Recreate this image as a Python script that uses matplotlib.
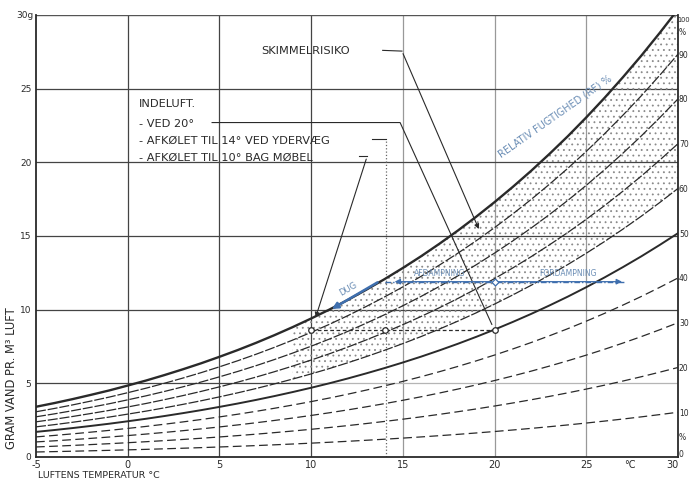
import matplotlib
matplotlib.use('Agg')
import matplotlib.pyplot as plt
import numpy as np

# saturated water content of air (g/m3)
temps = [-5, -4, -3, -2, -1, 0, 1, 2, 3, 4, 5, 6, 7, 8, 9, 10, 11, 12, 13, 14, 15,
         16, 17, 18, 19, 20, 21, 22, 23, 24, 25, 26, 27, 28, 29, 30]
sat_g = [3.41, 3.66, 3.93, 4.22, 4.52, 4.85, 5.19, 5.56, 5.95, 6.36, 6.80, 7.26,
         7.75, 8.27, 8.82, 9.40, 10.01, 10.66, 11.35, 12.07, 12.83, 13.63, 14.48,
         15.37, 16.31, 17.30, 18.34, 19.43, 20.58, 21.78, 23.05, 24.38, 25.78,
         27.24, 28.78, 30.38]
rh_levels = [10, 20, 30, 40, 50, 60, 70, 80, 90, 100]
rh_labels = ['10', '20', '30', '40', '50', '60', '70', '80', '90', '100']

# indoor air states (temperature, g/m3)
state_temps = [10, 14, 20]
state_g = 8.6
# blue process arrows
dug_from, dug_to = (13.75, 11.95), (11.0, 9.95)
evap_g = 11.9
evap_left = (20, 14.0)
evap_right = (20, 27.1)

x_ticks = [-5, 0, 5, 10, 15, 20, 25, 30]
y_ticks = [0, 5, 10, 15, 20, 25]

ink = '#2a2a2a'
blue = '#3f6fae'
blue_txt = '#6a8db5'
plt.rcParams['hatch.linewidth'] = 0.6
plt.rcParams['hatch.color'] = '#8a8a8a'

fig = plt.figure(figsize=(6.9, 4.81), dpi=100)
ax = fig.add_axes([36 / 690, 23 / 481, 642 / 690, 442 / 481])
ax.set_xlim(-5, 30)
ax.set_ylim(0, 30)

t = np.array(temps, dtype=float)
s = np.array(sat_g)
curves = {rh: s * rh / 100.0 for rh in rh_levels}

# grid
for xv in x_ticks[1:-1]:
    ax.axvline(xv, color='#444' if xv <= 10 else '#999', lw=0.9, zorder=1)
for yv in y_ticks[1:]:
    if yv == 5:
        ax.plot([-5, 10], [5, 5], color='#444', lw=0.9, zorder=1)
        ax.plot([10, 30], [5, 5], color='#b5b5b5', lw=0.9, zorder=1)
    else:
        ax.axhline(yv, color='#444', lw=0.9, zorder=1)
ax.axhline(30, color='#555', lw=1.0, zorder=1)

# mould-risk stipple
m = t >= 9
ax.fill_between(t[m], curves[60][m], curves[100][m], facecolor='none',
                edgecolor='#8a8a8a', hatch='...', lw=0, zorder=2)

# relative humidity curves
for rh in rh_levels:
    if rh in (50, 100):
        ax.plot(t, curves[rh], color=ink, lw=1.7 if rh == 100 else 1.4, zorder=3)
    elif rh < 50:
        ax.plot(t, curves[rh], color=ink, lw=0.9, dashes=(7, 3.5), zorder=3)
    else:
        ax.plot(t, curves[rh], color=ink, lw=0.9, dashes=(8, 1.5), zorder=3)

# right-hand % labels
rk = dict(fontsize=5.5, va='center', ha='left', color=ink)
for rh, lab in zip(rh_levels, rh_labels):
    if rh == 100:
        ax.text(29.98, 29.7, lab, fontsize=4.8, va='center', ha='left', color=ink)
    else:
        ax.text(30.05, curves[rh][-1], lab, **rk)
ax.text(30.05, 28.9, '%', **rk)
ax.text(30.05, 1.4, '%', **rk)
ax.text(30.05, 0.25, '0', **rk)

# indoor states
ax.plot([state_temps[0], state_temps[-1]], [state_g, state_g], color=ink,
        lw=0.9, dashes=(3, 2), zorder=4)
ax.plot(state_temps, [state_g] * 3, 'o', ms=4, mfc='white', mec=ink, mew=0.9, zorder=5)
ax.plot([14.1, 14.1], [0, 21.55], color='#666', lw=0.9, ls=':', zorder=2)

# annotation text block
tk = dict(fontsize=8.2, color=ink, ha='left', va='center')
ax.text(0.6, 24.0, 'INDELUFT.', **tk)
ax.text(0.6, 22.7, '- VED 20°', **tk)
ax.text(0.6, 21.55, '- AFKØLET TIL 14° VED YDERVÆG', **tk)
ax.text(0.6, 20.4, '- AFKØLET TIL 10° BAG MØBEL', **tk)
ax.text(7.3, 27.6, 'SKIMMELRISIKO', **tk)

# leader lines
ax.plot([4.6, 14.85, 19.85], [22.7, 22.7, 9.0], color=ink, lw=0.8, zorder=4)
ax.plot([13.3, 14.1], [21.55, 21.55], color=ink, lw=0.8, zorder=4)
ax.annotate('', xy=(10.2, 9.3), xytext=(13.05, 20.4),
            arrowprops=dict(arrowstyle='-|>', color=ink, lw=0.8, mutation_scale=7))
ax.plot([12.6, 13.05], [20.4, 20.4], color=ink, lw=0.8)
ax.plot([13.9, 14.95], [27.6, 27.55], color=ink, lw=0.8)
ax.annotate('', xy=(19.2, 15.3), xytext=(14.95, 27.55),
            arrowprops=dict(arrowstyle='-|>', color=ink, lw=0.8, mutation_scale=7))

# blue processes
ax.annotate('', xy=dug_to, xytext=dug_from,
            arrowprops=dict(arrowstyle='-|>', color=blue, lw=1.8, mutation_scale=9), zorder=6)
ax.text(12.0, 11.45, 'DUG', fontsize=6, color=blue_txt, rotation=30, ha='center', va='center')
ax.plot([evap_left[1], evap_right[1]], [evap_g, evap_g], color=blue, lw=1.0,
        dashes=(4, 1.5, 1, 1.5), zorder=6)
ax.annotate('', xy=(evap_left[1] + 0.4, evap_g), xytext=(evap_left[0], evap_g),
            arrowprops=dict(arrowstyle='-|>', color=blue, lw=0.9, mutation_scale=8), zorder=6)
ax.annotate('', xy=(evap_right[1], evap_g), xytext=(evap_right[0], evap_g),
            arrowprops=dict(arrowstyle='-|>', color=blue, lw=0.9, mutation_scale=8), zorder=6)
ax.plot([20], [evap_g], 'D', ms=3.5, mfc='white', mec=blue, mew=0.9, zorder=7)
ax.text(17.0, 12.55, 'AFDAMPNING', fontsize=5.5, color=blue_txt, ha='center', va='center')
ax.text(24.0, 12.55, 'FORDAMPNING', fontsize=5.5, color=blue_txt, ha='center', va='center')
ax.text(23.3, 23.2, 'RELATIV FUGTIGHED (RF) %', fontsize=7, color=blue_txt,
        rotation=35, ha='center', va='center')

# axes frame and ticks
for side in ['left', 'bottom', 'right']:
    ax.spines[side].set_color(ink)
    ax.spines[side].set_linewidth(1.3)
ax.spines['top'].set_visible(False)
ax.set_xticks([])
ax.set_yticks([])
for xv in x_ticks:
    ax.text(xv if xv < 30 else 29.7, -0.5, str(xv), fontsize=7, ha='center',
            va='center', color=ink)
ax.text(27.4, -0.5, '°C', fontsize=7, ha='center', va='center', color=ink)
for yv in y_ticks:
    ax.text(-5.25, yv, str(yv), fontsize=6.5, ha='right', va='center', color=ink)
ax.text(-5.15, 30, '30g', fontsize=6.5, ha='right', va='center', color=ink)

fig.text(38 / 690, 5 / 481, 'LUFTENS TEMPERATUR °C', fontsize=6.8, color=ink,
         ha='left', va='center')
fig.text(12 / 690, 1 - 378 / 481, 'GRAM VAND PR. M³ LUFT', fontsize=8.3, color=ink,
         rotation=90, ha='center', va='center')

fig.savefig('out.png', dpi=100)
